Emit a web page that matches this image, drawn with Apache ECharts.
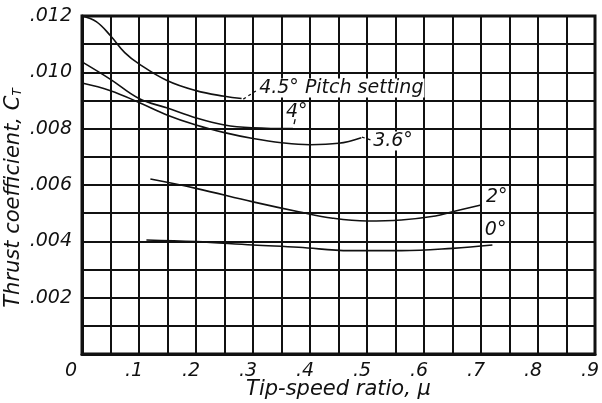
<!DOCTYPE html>
<html>
<head>
<meta charset="utf-8">
<script src="https://cdn.jsdelivr.net/npm/echarts@6/dist/echarts.min.js"></script>
<style>
html, body { margin: 0; padding: 0; background: #fff; }
#chart { width: 602px; height: 403px; }
</style>
</head>
<body>
<div id="chart"></div>
<script>
// tick labels
const xTickLabels = ['0', '.1', '.2', '.3', '.4', '.5', '.6', '.7', '.8', '.9'];
const yTickLabels = ['', '.002', '.004', '.006', '.008', '.010', '.012'];

// 4.5 deg pitch setting
const mu45 = [0, 0.025, 0.05, 0.075, 0.1, 0.15, 0.2, 0.25, 0.28];
const ct45 = [0.0120, 0.0118, 0.0113, 0.0107, 0.0103, 0.0097, 0.00935, 0.00915, 0.00907];

// 4 deg
const mu40 = [0, 0.05, 0.1, 0.15, 0.2, 0.25, 0.3, 0.37];
const ct40 = [0.01037, 0.00975, 0.00907, 0.00873, 0.00838, 0.00813, 0.00803, 0.0080];

// 3.6 deg
const mu36 = [0, 0.05, 0.1, 0.15, 0.2, 0.25, 0.3, 0.35, 0.4, 0.45, 0.49];
const ct36 = [0.00962, 0.00935, 0.00893, 0.00848, 0.00813, 0.00786, 0.00765, 0.0075, 0.00743, 0.00748, 0.00768];

// 2 deg
const mu20 = [0.12, 0.2, 0.3, 0.38, 0.44, 0.5, 0.56, 0.62, 0.65, 0.70];
const ct20 = [0.00621, 0.00588, 0.0054, 0.00505, 0.00482, 0.00472, 0.00476, 0.0049, 0.00505, 0.00529];

// 0 deg
const mu00 = [0.113, 0.2, 0.3, 0.38, 0.47, 0.56, 0.65, 0.72];
const ct00 = [0.00405, 0.00399, 0.00387, 0.00379, 0.00367, 0.00367, 0.00375, 0.00387];

const pairs = (xs, ys) => xs.map((x, i) => [x, ys[i]]);

const font = 'DejaVu Sans';
const ink = '#111';

const lineSeries = (name, xs, ys) => ({
    name: name,
    type: 'line',
    smooth: 0.4,
    symbol: 'none',
    lineStyle: { color: ink, width: 1.6 },
    data: pairs(xs, ys),
    z: 5,
});

// curve labels, anchored in data units (left edge, vertical middle)
const curveLabels = [
    { text: '4.5° Pitch setting', at: [0.309, 0.00944] },
    { text: '4°', at: [0.356, 0.00859] },
    { text: '3.6°', at: [0.509, 0.00756] },
    { text: '2°', at: [0.707, 0.00557] },
    { text: '0°', at: [0.705, 0.0044] },
];
const leaders = [
    { from: [0.283, 0.00905], to: [0.305, 0.00934], dash: true },
    { from: [0.374, 0.00834], to: [0.372, 0.00816], dash: false },
    { from: [0.491, 0.0077], to: [0.507, 0.0076], dash: true },
];

const myChart = echarts.init(document.getElementById('chart'));

const option = {
    animation: false,
    backgroundColor: '#fff',
    grid: {
        left: 82,
        right: 7,
        top: 16,
        bottom: 49,
        outerBoundsMode: 'none',
        containLabel: false,
        show: true,
        borderColor: ink,
        borderWidth: 3,
        z: 10,
    },
    xAxis: {
        type: 'value',
        min: 0,
        max: 0.9,
        interval: 0.05,
        name: 'Tip-speed ratio, μ',
        nameLocation: 'middle',
        nameGap: 25,
        nameMoveOverlap: false,
        nameTextStyle: { fontFamily: font, fontStyle: 'italic', fontSize: 21, color: ink },
        axisLine: { lineStyle: { color: ink, width: 3 } },
        axisTick: { show: false },
        splitLine: { show: true, lineStyle: { color: ink, width: 2 } },
        axisLabel: {
            margin: 8,
            fontFamily: font,
            fontStyle: 'italic',
            fontSize: 19,
            color: ink,
            formatter: (v) => {
                const k = Math.round(v * 100);
                if (k % 10 !== 0) return '';
                const s = xTickLabels[k / 10];
                return k === 0 ? '{z|' + s + '}' : '{n|' + s + '}';
            },
            rich: {
                z: { fontFamily: font, fontStyle: 'italic', fontSize: 19, color: ink, padding: [0, 22, 0, 0] },
                n: { fontFamily: font, fontStyle: 'italic', fontSize: 19, color: ink, padding: [0, 10, 0, 0] },
            },
        },
    },
    yAxis: {
        type: 'value',
        min: 0,
        max: 0.012,
        interval: 0.001,
        name: '{t|Thrust coefficient, C}{s|T}',
        nameLocation: 'middle',
        nameGap: 58,
        nameMoveOverlap: false,
        nameTextStyle: {
            padding: [0, 26, 0, 0],
            rich: {
                t: { fontFamily: font, fontStyle: 'italic', fontSize: 21, color: ink },
                s: { fontFamily: font, fontStyle: 'italic', fontSize: 12, color: ink, padding: [9, 0, 0, 0] },
            },
        },
        axisLine: { show: true, lineStyle: { color: ink, width: 3 } },
        axisTick: { show: false },
        splitLine: { show: true, lineStyle: { color: ink, width: 2 } },
        axisLabel: {
            margin: 10,
            fontFamily: font,
            fontStyle: 'italic',
            fontSize: 19,
            color: ink,
            padding: [7, 0, 0, 0],
            formatter: (v) => {
                const k = Math.round(v * 1000);
                if (k % 2 !== 0) return '';
                return yTickLabels[k / 2];
            },
        },
    },
    series: [
        lineSeries('4.5°', mu45, ct45),
        lineSeries('4°', mu40, ct40),
        lineSeries('3.6°', mu36, ct36),
        lineSeries('2°', mu20, ct20),
        lineSeries('0°', mu00, ct00),
    ],
};

myChart.setOption(option);

// curve labels and short leader marks
const toPx = (p) => myChart.convertToPixel({ gridIndex: 0 }, p);
const graphics = [];
curveLabels.forEach((l) => {
    const p = toPx(l.at);
    graphics.push({
        type: 'text',
        x: p[0],
        y: p[1],
        z: 20,
        style: {
            text: l.text,
            fill: ink,
            font: 'italic 19px "' + font + '"',
            verticalAlign: 'middle',
            backgroundColor: '#fff',
            padding: [0, 1],
        },
    });
});
leaders.forEach((d) => {
    const a = toPx(d.from);
    const b = toPx(d.to);
    graphics.push({
        type: 'line',
        z: 20,
        shape: { x1: a[0], y1: a[1], x2: b[0], y2: b[1] },
        style: { stroke: ink, lineWidth: 1.3, lineDash: d.dash ? [3, 3] : null },
    });
});
myChart.setOption({ graphic: graphics });
</script>
</body>
</html>
